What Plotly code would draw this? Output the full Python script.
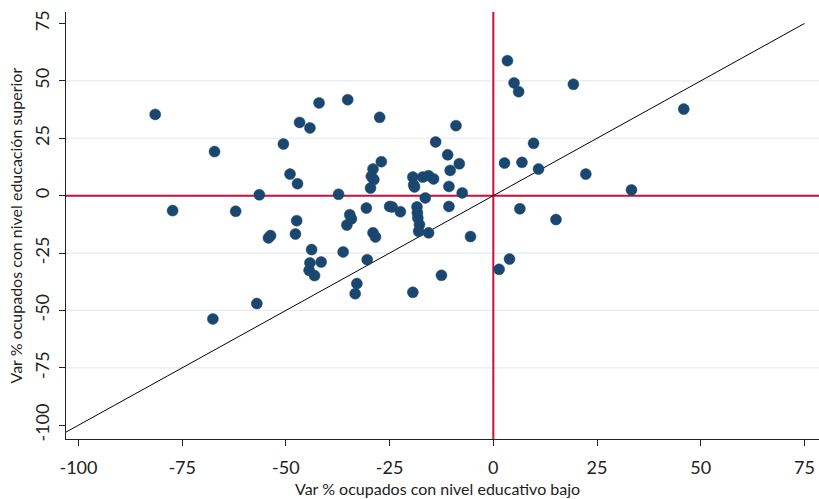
import plotly.graph_objects as go

# Data
var_bajo = [-81.5, -77.3, -67.2, -67.6, -62.1, -57.0, -56.4, -54.2, -53.7, -50.6,
            -49.0, -47.2, -47.4, -47.7, -46.7, -44.2, -42.0, -43.8, -41.5, -44.2,
            -44.4, -43.1, -37.3, -36.2, -35.1, -34.6, -34.2, -35.3, -32.9, -33.3,
            -30.6, -30.4, -29.0, -28.4, -27.4, -27.0, -29.0, -29.4, -28.8, -29.6,
            -25.0, -24.4, -22.4, -19.4, -17.0, -15.6, -14.4, -19.2, -19.0, -16.4,
            -18.4, -18.3, -18.2, -17.8, -18.0, -15.6, -19.4, -12.5, -13.9, -9.0,
            -11.0, -8.2, -10.4, -10.7, -7.5, -10.7, -5.5, 3.4, 5.0, 6.1,
            19.3, 45.9, 9.7, 2.7, 6.9, 10.9, 22.3, 33.3, 6.4, 15.1,
            3.9, 1.4]
var_superior = [35.4, -6.5, 19.2, -53.7, -6.8, -47.0, 0.4, -18.4, -17.4, 22.5,
                9.4, 5.2, -10.9, -16.7, 31.9, 29.5, 40.4, -23.5, -28.9, -29.3,
                -32.5, -34.8, 0.6, -24.5, 41.8, -8.3, -10.1, -12.8, -38.3, -42.7,
                -5.4, -27.9, -16.2, -18.0, 34.1, 14.8, 11.6, 8.4, 7.0, 3.3,
                -4.7, -4.9, -7.0, 8.1, 8.1, 8.7, 7.3, 4.7, 3.8, -1.0,
                -4.9, -7.5, -9.7, -12.6, -15.5, -16.2, -42.1, -34.7, 23.4, 30.5,
                17.8, 13.9, 11.0, 4.0, 1.2, -4.7, -17.8, 58.8, 49.1, 45.3,
                48.5, 37.7, 22.8, 14.2, 14.5, 11.6, 9.4, 2.5, -5.7, -10.4,
                -27.6, -32.1]

tick_vals = [-100, -75, -50, -25, 0, 25, 50, 75]
tick_text = ["-100", "-75", "-50", "-25", "0", "25", "50", "75"]
grid_vals = [-75, -50, -25, 25, 50]
diag_range = [-106, 75]
x_range = [-103, 78.5]
y_range = [-106, 80]
x_title = "Var % ocupados con nivel educativo bajo"
y_title = "Var % ocupados con nivel educación superior"

FONT = "Lato, 'Open Sans', sans-serif"
NAVY = "#1a476f"
RED = "#c8103c"
INK = "#222222"

fig = go.Figure()

# diagonal 45-degree line
fig.add_trace(go.Scatter(x=diag_range, y=diag_range, mode="lines",
                         line=dict(color="black", width=1), hoverinfo="skip",
                         showlegend=False))

fig.add_trace(go.Scatter(x=var_bajo, y=var_superior, mode="markers",
                         marker=dict(color=NAVY, size=11,
                                     line=dict(color=NAVY, width=0.5)),
                         showlegend=False))

shapes = []
for g in grid_vals:
    shapes.append(dict(type="line", xref="paper", x0=0, x1=1, yref="y", y0=g, y1=g,
                       line=dict(color="#e6ebee", width=1.2), layer="below"))
shapes.append(dict(type="line", xref="paper", x0=0, x1=1, yref="y", y0=0, y1=0,
                   line=dict(color=RED, width=2), layer="below"))
shapes.append(dict(type="line", yref="paper", y0=0, y1=1, xref="x", x0=0, x1=0,
                   line=dict(color=RED, width=2), layer="below"))

annotations = [
    dict(text=x_title, xref="paper", yref="paper", x=0.494, y=0,
         xanchor="center", yanchor="middle", yshift=-49, showarrow=False,
         font=dict(size=16, family=FONT, color=INK)),
    dict(text=y_title, xref="paper", yref="paper", x=0, y=0.5,
         xanchor="center", yanchor="middle", xshift=-51, textangle=-90,
         showarrow=False, font=dict(size=16, family=FONT, color=INK)),
]

axis_common = dict(tickvals=tick_vals, ticktext=tick_text, showgrid=False,
                   zeroline=False, showline=True, linecolor=INK, linewidth=1,
                   ticks="outside", ticklen=6, tickcolor=INK, automargin=False,
                   tickfont=dict(size=18, family=FONT, color=INK))

fig.update_layout(
    width=819, height=499,
    margin=dict(l=66, r=0, t=12, b=60),
    paper_bgcolor="white", plot_bgcolor="white",
    font=dict(family=FONT, color=INK),
    shapes=shapes,
    annotations=annotations,
    xaxis=dict(range=x_range, ticklabelstandoff=6, **axis_common),
    yaxis=dict(range=y_range, tickangle=-90, ticklabelstandoff=3, **axis_common),
)

fig.write_html("out.html",
               config={"displayModeBar": False},
               post_script="document.body.style.margin='0';document.body.style.overflow='hidden';")
